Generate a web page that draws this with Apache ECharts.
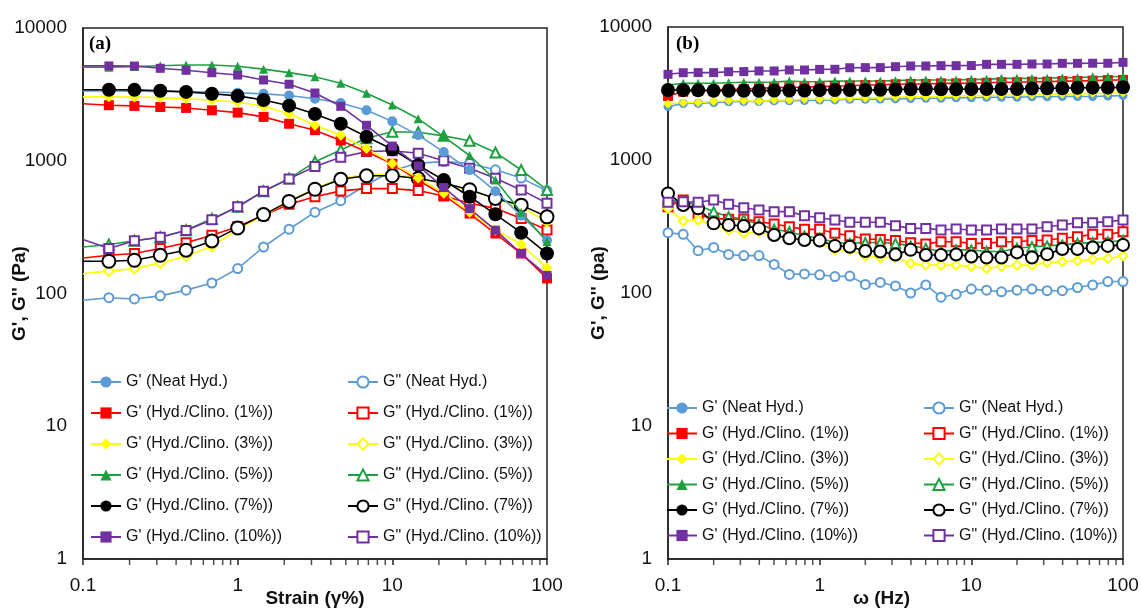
<!DOCTYPE html>
<html>
<head>
<meta charset="utf-8">
<script src="https://cdn.jsdelivr.net/npm/echarts@6/dist/echarts.min.js"></script>
<style>
    html, body, #chart {
        width: 100%;
        height: 100%;
        margin: 0;
        background: #fff;
    }
</style>
</head>
<body>
<div id="chart"></div>
<script>
// ---- panel (a): strain sweep ----
var strainX = [0.1, 0.147, 0.215, 0.316, 0.464, 0.681, 1, 1.47, 2.15, 3.16, 4.64, 6.81, 10, 14.7, 21.5, 31.6, 46.4, 68.1, 100];

var aG1_neat = [3360, 3350, 3340, 3330, 3310, 3290, 3250, 3190, 3100, 2930, 2720, 2400, 1980, 1560, 1165, 850, 590, 385, 252];
var aG1_1 = [2690, 2620, 2590, 2540, 2500, 2400, 2305, 2140, 1900, 1700, 1420, 1170, 950, 713, 550, 400, 283, 200, 130];
var aG1_3 = [3030, 3030, 3020, 2990, 2940, 2850, 2770, 2570, 2260, 1850, 1555, 1235, 953, 740, 570, 410, 300, 235, 156];
var aG1_5 = [5060, 5070, 5120, 5200, 5260, 5260, 5150, 4900, 4610, 4300, 3840, 3220, 2630, 2070, 1520, 1095, 716, 410, 246];
var aG1_7 = [3430, 3430, 3420, 3370, 3300, 3200, 3080, 2870, 2600, 2250, 1900, 1515, 1220, 925, 715, 536, 395, 287, 200];
var aG1_10 = [5180, 5180, 5170, 4970, 4800, 4600, 4420, 4060, 3770, 3240, 2570, 1850, 1290, 914, 628, 436, 300, 200, 137];

var aG2_neat = [89, 93, 91, 96, 106, 120, 154, 224, 305, 410, 500, 660, 840, 960, 985, 955, 855, 740, 595];
var aG2_1 = [185, 194, 200, 218, 241, 275, 318, 389, 471, 535, 593, 617, 617, 596, 543, 478, 438, 368, 301];
var aG2_3 = [141, 148, 154, 170, 191, 227, 303, 389, 496, 617, 734, 790, 790, 740, 670, 600, 519, 445, 350];
var aG2_5 = [224, 234, 250, 265, 300, 365, 450, 590, 734, 982, 1205, 1475, 1655, 1640, 1540, 1415, 1155, 852, 603];
var aG2_7 = [175, 175, 178, 194, 212, 249, 312, 393, 494, 610, 725, 770, 770, 735, 680, 605, 520, 463, 378];
var aG2_10 = [255, 218, 250, 265, 298, 360, 450, 590, 730, 904, 1062, 1172, 1190, 1138, 1000, 877, 738, 603, 478];

// ---- panel (b): frequency sweep ----
var freqX = [0.1, 0.126, 0.158, 0.2, 0.251, 0.316, 0.398, 0.501, 0.631, 0.794, 1, 1.26, 1.58, 2, 2.51, 3.16, 3.98, 5.01, 6.31, 7.94, 10, 12.6, 15.8, 20, 25.1, 31.6, 39.8, 50.1, 63.1, 79.4, 100];

var bG1_neat = [2520, 2660, 2670, 2700, 2740, 2750, 2750, 2780, 2790, 2800, 2820, 2830, 2860, 2860, 2870, 2880, 2900, 2910, 2910, 2940, 2940, 2960, 2960, 2960, 2990, 2990, 3000, 3000, 3000, 3030, 3050];
var bG1_1 = [3030, 3260, 3320, 3360, 3400, 3420, 3460, 3500, 3520, 3520, 3560, 3600, 3620, 3660, 3670, 3710, 3730, 3730, 3770, 3770, 3780, 3810, 3840, 3840, 3880, 3880, 3920, 3930, 3950, 3990, 4000];
var bG1_3 = [2640, 2700, 2710, 2750, 2790, 2790, 2770, 2820, 2830, 2860, 2860, 2870, 2910, 2910, 2940, 2960, 2990, 2990, 3000, 3030, 3050, 3050, 3080, 3080, 3090, 3120, 3120, 3140, 3170, 3170, 3210];
var bG1_5 = [3660, 3770, 3770, 3780, 3810, 3840, 3840, 3860, 3920, 3880, 3890, 3920, 3930, 3930, 3930, 3950, 3990, 4000, 4000, 4000, 4040, 4040, 4110, 4110, 4110, 4120, 4160, 4160, 4230, 4230, 4240];
var bG1_7 = [3360, 3350, 3340, 3320, 3320, 3320, 3320, 3330, 3330, 3330, 3350, 3360, 3360, 3360, 3370, 3390, 3400, 3400, 3400, 3400, 3410, 3420, 3420, 3420, 3450, 3460, 3460, 3490, 3500, 3500, 3520];
var bG1_10 = [4410, 4530, 4540, 4540, 4610, 4620, 4670, 4670, 4750, 4750, 4800, 4810, 4940, 4950, 4950, 5030, 5090, 5090, 5120, 5120, 5130, 5240, 5240, 5240, 5270, 5270, 5330, 5330, 5340, 5340, 5420];

var bG2_neat = [284, 276, 208, 220, 195, 191, 191, 164, 138, 139, 137, 133, 134, 116, 120, 113, 100, 115, 93, 98, 107, 105, 102, 105, 107, 104, 104, 110, 115, 122, 122];
var bG2_1 = [446, 500, 386, 364, 358, 360, 344, 330, 315, 301, 301, 281, 270, 255, 253, 248, 239, 234, 243, 243, 236, 236, 243, 243, 248, 250, 258, 265, 276, 276, 289];
var bG2_3 = [433, 348, 354, 325, 298, 281, 289, 265, 258, 250, 239, 211, 211, 190, 185, 185, 167, 162, 162, 162, 158, 153, 158, 162, 162, 169, 172, 175, 179, 182, 190];
var bG2_5 = [506, 481, 459, 409, 375, 358, 328, 301, 289, 268, 258, 240, 236, 240, 240, 236, 226, 217, 205, 211, 211, 205, 205, 217, 223, 226, 230, 236, 239, 243, 248];
var bG2_7 = [561, 459, 433, 334, 325, 319, 306, 273, 258, 250, 248, 226, 223, 207, 205, 195, 211, 193, 193, 195, 188, 185, 185, 202, 185, 196, 214, 214, 220, 226, 230];
var bG2_10 = [481, 486, 481, 500, 464, 438, 421, 409, 409, 381, 368, 354, 340, 340, 340, 321, 306, 306, 298, 303, 298, 298, 303, 303, 303, 315, 325, 338, 338, 344, 354];

// minor log ticks on the x axes
var minorX = [0.2, 0.3, 0.4, 0.5, 0.6, 0.7, 0.8, 0.9, 2, 3, 4, 5, 6, 7, 8, 9, 20, 30, 40, 50, 60, 70, 80, 90];

var samples = ['Neat Hyd.', 'Hyd./Clino. (1%)', 'Hyd./Clino. (3%)', 'Hyd./Clino. (5%)', 'Hyd./Clino. (7%)', 'Hyd./Clino. (10%)'];
var colors = ['#5B9BD5', '#FF0000', '#FFFF00', '#1FA040', '#000000', '#7030A0'];
var fillSym = ['circle', 'rect', 'diamond', 'triangle', 'circle', 'rect'];
var openSym = ['emptyCircle', 'emptyRect', 'emptyDiamond', 'emptyTriangle', 'emptyCircle', 'emptyRect'];
var sizeA1 = [10, 10, 11, 9, 14, 9];
var sizeA2 = [9, 9, 10, 10, 13, 9];
var sizeB1 = [9, 10, 9, 9, 14, 9];
var sizeB2 = [9, 9, 9, 9, 12, 9];

var aG1 = [aG1_neat, aG1_1, aG1_3, aG1_5, aG1_7, aG1_10];
var aG2 = [aG2_neat, aG2_1, aG2_3, aG2_5, aG2_7, aG2_10];
var bG1 = [bG1_neat, bG1_1, bG1_3, bG1_5, bG1_7, bG1_10];
var bG2 = [bG2_neat, bG2_1, bG2_3, bG2_5, bG2_7, bG2_10];

var nameG1 = samples.map(function (s) { return "G' (" + s + ")"; });
var nameG2 = samples.map(function (s) { return 'G" (' + s + ')'; });

var FONT = "'Liberation Sans', Arial, sans-serif";

function lineSeries(name, xs, ys, idx, color, sym, size, open, hideFirst) {
    return {
        type: 'line',
        name: name,
        xAxisIndex: idx,
        yAxisIndex: idx,
        data: xs.map(function (x, i) {
            if (hideFirst && i === 0) return { value: [x, ys[i]], symbol: 'none' };
            return [x, ys[i]];
        }),
        symbol: sym,
        symbolSize: size,
        showAllSymbol: true,
        color: color,
        lineStyle: { color: color, width: 1.6 },
        itemStyle: { color: color, borderColor: color, borderWidth: open ? 1.5 : 0 },
        emphasis: { disabled: true },
        animation: false,
        z: open ? 3 : 4
    };
}

var series = [];
for (var k = 0; k < 6; k++) {
    series.push(lineSeries(nameG1[k], strainX, aG1[k], 0, colors[k], fillSym[k], sizeA1[k], false, true));
    series.push(lineSeries(nameG2[k], strainX, aG2[k], 0, colors[k], openSym[k], sizeA2[k], true, true));
}
for (var k2 = 0; k2 < 6; k2++) {
    series.push(lineSeries(nameG1[k2], freqX, bG1[k2], 1, colors[k2], fillSym[k2], sizeB1[k2], false, false));
    series.push(lineSeries(nameG2[k2], freqX, bG2[k2], 1, colors[k2], openSym[k2], sizeB2[k2], true, false));
}
[0, 1].forEach(function (g) {
    series.push({
        type: 'scatter',
        xAxisIndex: g,
        yAxisIndex: g,
        data: minorX.map(function (x) { return [x, 1]; }),
        symbol: 'rect',
        symbolSize: [1.5, 6],
        symbolOffset: [0, 3],
        itemStyle: { color: '#222' },
        silent: true,
        clip: false,
        animation: false,
        z: 6
    });
});

function fmt(v) {
    return v < 1 ? v.toFixed(1) : String(Math.round(v));
}

function xAxis(idx, title, pad) {
    return {
        type: 'log',
        gridIndex: idx,
        min: 0.1,
        max: 100,
        axisLine: { onZero: false, lineStyle: { color: '#222', width: 1.5 } },
        axisTick: { show: true, length: 6, lineStyle: { color: '#222', width: 1.5 } },
        axisLabel: { fontFamily: FONT, fontSize: 19, color: '#111', margin: 17, formatter: fmt },
        splitLine: { show: false },
        name: title,
        nameLocation: 'middle',
        nameGap: 30,
        nameMoveOverlap: false,
        nameTextStyle: { fontFamily: FONT, fontWeight: 'bold', fontSize: 19, color: '#111', padding: pad }
    };
}

function yAxis(idx, title, gap) {
    return {
        type: 'log',
        gridIndex: idx,
        min: 1,
        max: 10000,
        axisLine: { lineStyle: { color: '#222', width: 1.5 } },
        axisTick: { show: false },
        axisLabel: { fontFamily: FONT, fontSize: 19, color: '#111', margin: 16, formatter: fmt },
        splitLine: { show: false },
        name: title,
        nameLocation: 'middle',
        nameGap: gap,
        nameMoveOverlap: false,
        nameTextStyle: { fontFamily: FONT, fontWeight: 'bold', fontSize: 19, color: '#111' }
    };
}

function legendCol(left, top, names, gap) {
    return {
        orient: 'vertical',
        left: left,
        top: top,
        padding: 0,
        data: names,
        itemWidth: 30,
        itemHeight: 14,
        itemGap: gap,
        selectedMode: false,
        textStyle: { fontFamily: FONT, fontSize: 16, lineHeight: 20, color: '#111' }
    };
}

var chart = echarts.init(document.getElementById('chart'));
chart.setOption({
    backgroundColor: '#fff',
    animation: false,
    grid: [
        { left: 83, top: 28, width: 464, height: 531, outerBoundsMode: 'none', containLabel: false, show: true, borderColor: '#222', borderWidth: 1.5, backgroundColor: '#fff' },
        { left: 668, top: 27, width: 455, height: 532, outerBoundsMode: 'none', containLabel: false, show: true, borderColor: '#222', borderWidth: 1.5, backgroundColor: '#fff' }
    ],
    xAxis: [xAxis(0, 'Strain (\u03b3%)', [0, 0, 0, 0]), xAxis(1, '\u03c9 (Hz)', [0, 28, 0, 0])],
    yAxis: [yAxis(0, "G', G'' (Pa)", 54), yAxis(1, "G', G'' (pa)", 60)],
    legend: [
        legendCol(90, 372, nameG1, 11),
        legendCol(347, 372, nameG2, 11),
        legendCol(666, 398, nameG1, 5.5),
        legendCol(923, 398, nameG2, 5.5)
    ],
    graphic: [
        { type: 'text', left: 89, top: 35, style: { text: '(a)', font: 'bold 19px "Liberation Serif", "Times New Roman", serif', fill: '#000' } },
        { type: 'text', left: 676, top: 35, style: { text: '(b)', font: 'bold 19px "Liberation Serif", "Times New Roman", serif', fill: '#000' } }
    ],
    series: series
});
</script>
</body>
</html>
